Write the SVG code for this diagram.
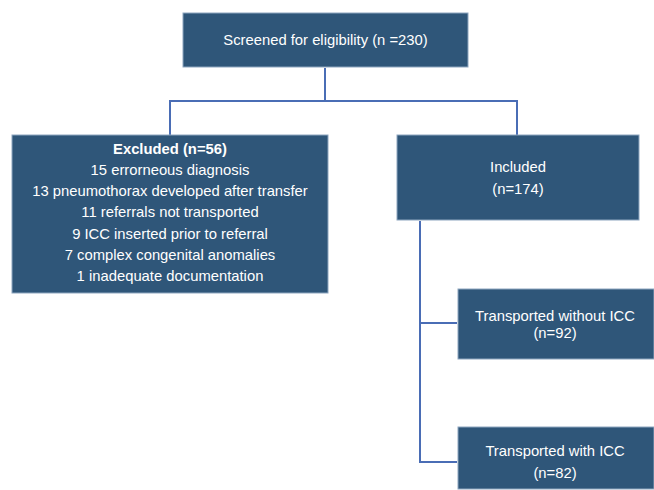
<svg xmlns="http://www.w3.org/2000/svg" width="654" height="490" viewBox="0 0 654 490">
<style>
.box{fill:#2f5679;stroke:#8ea6c0;stroke-width:1}
.t{font-family:"Liberation Sans",Arial,sans-serif;font-size:14.8px;fill:#ffffff;text-anchor:middle;dominant-baseline:central}
.b{font-weight:bold}
.c{fill:none;stroke:#4a6db5;stroke-width:2}
</style>
<rect width="654" height="490" fill="#ffffff"/>
<g id="connectors">
<path class="c" d="M325,68 V101"/>
<path class="c" d="M170,135 V101 H517 V135"/>
<path class="c" d="M420,221 V462 H457"/>
<path class="c" d="M420,323 H457"/>
</g>
<g id="screened">
<rect class="box" x="183" y="13" width="285" height="54"/>
<text class="t" x="325.5" y="40">Screened for eligibility (n =230)</text>
</g>
<g id="excluded">
<rect class="box" x="12" y="135" width="316" height="158"/>
<text class="t b" x="170" y="149">Excluded (n=56)</text>
<text class="t" x="170" y="170">15 errorneous diagnosis</text>
<text class="t" x="170" y="191">13 pneumothorax developed after transfer</text>
<text class="t" x="170" y="212">11 referrals not transported</text>
<text class="t" x="170" y="234">9 ICC inserted prior to referral</text>
<text class="t" x="170" y="255">7 complex congenital anomalies</text>
<text class="t" x="170" y="276">1 inadequate documentation</text>
</g>
<g id="included">
<rect class="box" x="397" y="135" width="242" height="85"/>
<text class="t" x="518" y="167">Included</text>
<text class="t" x="518" y="189">(n=174)</text>
</g>
<g id="without">
<rect class="box" x="458" y="289" width="196" height="70"/>
<text class="t" x="555" y="316">Transported without ICC</text>
<text class="t" x="555" y="333">(n=92)</text>
</g>
<g id="with">
<rect class="box" x="458" y="427" width="196" height="62"/>
<text class="t" x="555" y="451">Transported with ICC</text>
<text class="t" x="555" y="473">(n=82)</text>
</g>
</svg>
